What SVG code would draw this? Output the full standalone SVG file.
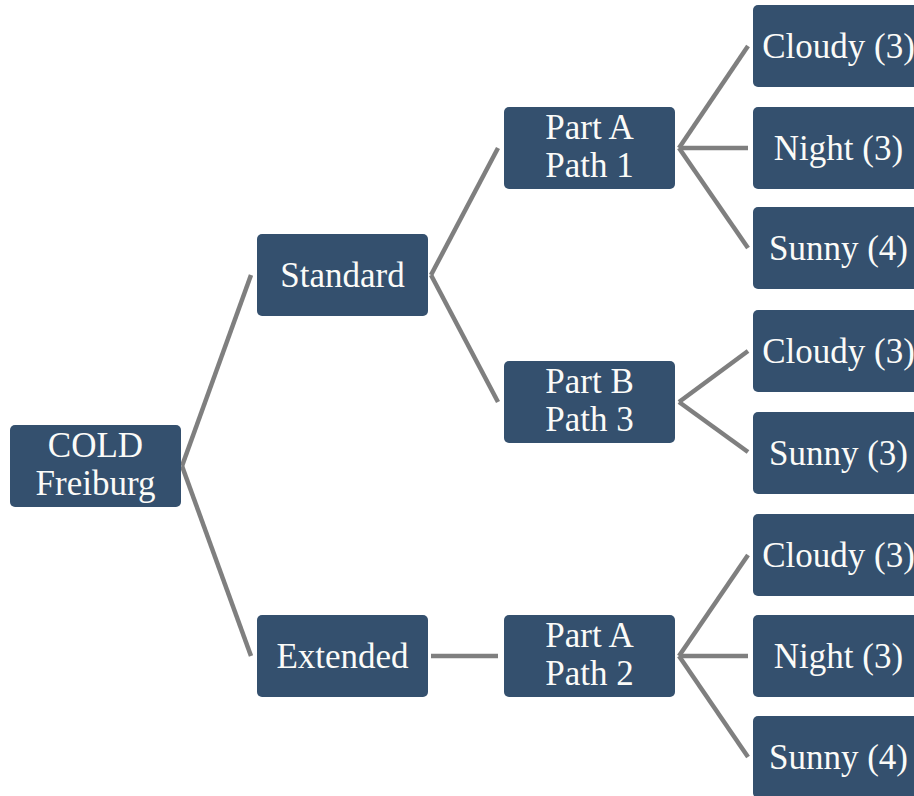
<svg xmlns="http://www.w3.org/2000/svg" width="914" height="796" viewBox="0 0 914 796">
<style>
.n rect{fill:#34506e;stroke:none}
.n text{fill:#fbfbf8;font-family:"Liberation Serif","Times New Roman",serif;font-size:35px;text-anchor:middle}
.c line{stroke:#7f7f7f;stroke-width:4.5;stroke-linecap:butt}
</style>
<rect width="914" height="796" fill="#ffffff"/>
<g class="c" id="connectors">
<line x1="182" y1="466" x2="251" y2="275"/>
<line x1="182" y1="466" x2="251" y2="656"/>
<line x1="431" y1="275" x2="498" y2="148"/>
<line x1="431" y1="275" x2="498" y2="402"/>
<line x1="431" y1="656" x2="498" y2="656"/>
<line x1="679" y1="148" x2="748" y2="46"/>
<line x1="679" y1="148" x2="748" y2="148"/>
<line x1="679" y1="148" x2="748" y2="248"/>
<line x1="679" y1="402" x2="748" y2="351"/>
<line x1="679" y1="402" x2="748" y2="452"/>
<line x1="679" y1="656" x2="748" y2="555"/>
<line x1="679" y1="656" x2="748" y2="656"/>
<line x1="679" y1="656" x2="748" y2="757"/>
</g>
<g class="n" id="cold"><rect x="10" y="425" width="171" height="82" rx="5"/><text x="95.5" y="457">COLD</text><text x="95.5" y="495">Freiburg</text></g>
<g class="n" id="standard"><rect x="257" y="234" width="171" height="82" rx="5"/><text x="342.5" y="287">Standard</text></g>
<g class="n" id="extended"><rect x="257" y="615" width="171" height="82" rx="5"/><text x="342.5" y="668">Extended</text></g>
<g class="n" id="partA1"><rect x="504" y="107" width="171" height="82" rx="5"/><text x="589.5" y="139">Part A</text><text x="589.5" y="177">Path 1</text></g>
<g class="n" id="partB3"><rect x="504" y="361" width="171" height="82" rx="5"/><text x="589.5" y="393">Part B</text><text x="589.5" y="431">Path 3</text></g>
<g class="n" id="partA2"><rect x="504" y="615" width="171" height="82" rx="5"/><text x="589.5" y="647">Part A</text><text x="589.5" y="685">Path 2</text></g>
<g class="n" id="leaf1"><rect x="753" y="5" width="171" height="82" rx="5"/><text x="838.5" y="58">Cloudy (3)</text></g>
<g class="n" id="leaf2"><rect x="753" y="107" width="171" height="82" rx="5"/><text x="838.5" y="160">Night (3)</text></g>
<g class="n" id="leaf3"><rect x="753" y="207" width="171" height="82" rx="5"/><text x="838.5" y="260">Sunny (4)</text></g>
<g class="n" id="leaf4"><rect x="753" y="310" width="171" height="82" rx="5"/><text x="838.5" y="363">Cloudy (3)</text></g>
<g class="n" id="leaf5"><rect x="753" y="412" width="171" height="82" rx="5"/><text x="838.5" y="465">Sunny (3)</text></g>
<g class="n" id="leaf6"><rect x="753" y="514" width="171" height="82" rx="5"/><text x="838.5" y="567">Cloudy (3)</text></g>
<g class="n" id="leaf7"><rect x="753" y="615" width="171" height="82" rx="5"/><text x="838.5" y="668">Night (3)</text></g>
<g class="n" id="leaf8"><rect x="753" y="716" width="171" height="82" rx="5"/><text x="838.5" y="769">Sunny (4)</text></g>
</svg>
